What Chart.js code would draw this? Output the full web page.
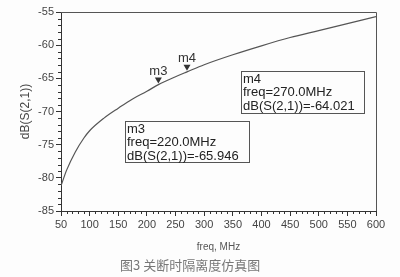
<!DOCTYPE html>
<html>
<head>
<meta charset="utf-8">
<script src="https://cdn.jsdelivr.net/npm/chart.js@4/dist/chart.umd.min.js"></script>
<style>
  html, body { margin: 0; padding: 0; background: #fdfdfd; }
  #wrap { width: 400px; height: 277px; position: relative; }
</style>
</head>
<body>
<div id="wrap"><canvas id="isoChart" width="400" height="277"></canvas></div>
<script>
// readings (freq in MHz, dB(S(2,1)))
const freqMHz = [50, 60, 75, 90, 100, 125, 150, 175, 200, 220, 250, 270, 300, 350, 400, 450, 500, 550, 600];
const s21dB = [-81.2, -78.8, -76.1, -74.0, -72.9, -71.0, -69.5, -68.1, -66.95, -65.946, -64.75, -64.021, -62.95, -61.45, -60.1, -58.85, -57.8, -56.75, -55.7];

const markerNames = ['m3', 'm4'];
const markerFreq = [220, 270];
const markerDb = [-65.946, -64.021];

const xTicks = [50, 100, 150, 200, 250, 300, 350, 400, 450, 500, 550, 600];
const yTicks = [-85, -80, -75, -70, -65, -60, -55];

const caption = '图3 关断时隔离度仿真图';

const inkColor = '#333';
const labelFont = { family: 'Liberation Sans, Arial, sans-serif', size: 11 };

// marker readout boxes (pixel layout)
const readoutBoxes = [
  { x: 125, y: 121, w: 124, h: 41 },
  { x: 241, y: 71, w: 123, h: 42 }
];

const extrasPlugin = {
  id: 'extras',
  afterDraw(chart) {
    const { ctx, chartArea, scales } = chart;
    const xs = scales.x, ys = scales.y;
    ctx.save();

    // top + right frame
    ctx.strokeStyle = '#555';
    ctx.lineWidth = 1;
    ctx.beginPath();
    ctx.moveTo(chartArea.left, chartArea.top + 0.5);
    ctx.lineTo(chartArea.right + 0.5, chartArea.top + 0.5);
    ctx.lineTo(chartArea.right + 0.5, chartArea.bottom);
    ctx.stroke();

    // minor ticks
    ctx.strokeStyle = inkColor;
    ctx.beginPath();
    for (let v = -85; v <= -55; v++) {
      if (v % 5 === 0) continue;
      const py = Math.round(ys.getPixelForValue(v)) + 0.5;
      ctx.moveTo(chartArea.left - 3, py);
      ctx.lineTo(chartArea.left, py);
    }
    for (let f = 50; f <= 600; f += 10) {
      if (f % 50 === 0) continue;
      const px = Math.round(xs.getPixelForValue(f)) + 0.5;
      ctx.moveTo(px, chartArea.bottom);
      ctx.lineTo(px, chartArea.bottom + 3);
    }
    ctx.stroke();

    // markers
    ctx.fillStyle = '#333';
    ctx.font = '13px "Liberation Sans", Arial, sans-serif';
    ctx.textAlign = 'center';
    ctx.textBaseline = 'alphabetic';
    markerFreq.forEach((f, i) => {
      const px = xs.getPixelForValue(f);
      const py = ys.getPixelForValue(markerDb[i]) - 1;
      ctx.beginPath();
      ctx.moveTo(px, py);
      ctx.lineTo(px - 3.5, py - 6);
      ctx.lineTo(px + 3.5, py - 6);
      ctx.closePath();
      ctx.fill();
      ctx.fillText(markerNames[i], px, py - 9);
    });

    // readout boxes
    ctx.textAlign = 'left';
    ctx.textBaseline = 'middle';
    ctx.strokeStyle = '#555';
    readoutBoxes.forEach((b, i) => {
      ctx.fillStyle = '#fdfdfd';
      ctx.fillRect(b.x, b.y, b.w, b.h);
      ctx.strokeRect(b.x + 0.5, b.y + 0.5, b.w, b.h);
      ctx.fillStyle = '#222';
      const lines = [
        markerNames[i],
        'freq=' + markerFreq[i].toFixed(1) + 'MHz',
        'dB(S(2,1))=' + markerDb[i].toFixed(3)
      ];
      lines.forEach((t, k) => ctx.fillText(t, b.x + 2, b.y + 8 + k * 13.5));
    });

    // figure caption
    ctx.fillStyle = '#777';
    ctx.font = '13px "Noto Sans CJK SC", sans-serif';
    ctx.textAlign = 'left';
    ctx.fillText(caption, 120, 265);
    ctx.restore();
  }
};

new Chart(document.getElementById('isoChart'), {
  type: 'line',
  data: {
    datasets: [{
      data: freqMHz.map((f, i) => ({ x: f, y: s21dB[i] })),
      borderColor: '#555',
      borderWidth: 1.2,
      pointRadius: 0,
      cubicInterpolationMode: 'monotone',
      fill: false
    }]
  },
  options: {
    responsive: false,
    animation: false,
    layout: { padding: { left: 0, right: 24, top: 12, bottom: 0 } },
    plugins: { legend: { display: false }, tooltip: { enabled: false } },
    scales: {
      x: {
        type: 'linear',
        min: 50,
        max: 600,
        afterBuildTicks: s => { s.ticks = xTicks.map(v => ({ value: v })); },
        afterFit: s => { s.height = 66; },
        grid: { drawOnChartArea: false, drawTicks: true, tickLength: 5, color: inkColor },
        border: { display: true, color: inkColor, width: 1 },
        ticks: { color: '#444', font: labelFont, padding: 2, maxRotation: 0 },
        title: {
          display: true,
          text: 'freq, MHz',
          color: '#555',
          font: { family: 'Liberation Sans, Arial, sans-serif', size: 10 },
          padding: { top: 0, bottom: 24 }
        }
      },
      y: {
        min: -85,
        max: -55,
        afterBuildTicks: s => { s.ticks = yTicks.map(v => ({ value: v })); },
        afterFit: s => { s.width = 61; },
        grid: { drawOnChartArea: false, drawTicks: true, tickLength: 5, color: inkColor },
        border: { display: true, color: inkColor, width: 1 },
        ticks: { color: '#444', font: labelFont, padding: 2 },
        title: {
          display: true,
          text: 'dB(S(2,1))',
          color: '#444',
          font: { family: 'Liberation Sans, Arial, sans-serif', size: 12 },
          padding: { top: 18, bottom: 0 }
        }
      }
    }
  },
  plugins: [extrasPlugin]
});
</script>
</body>
</html>
